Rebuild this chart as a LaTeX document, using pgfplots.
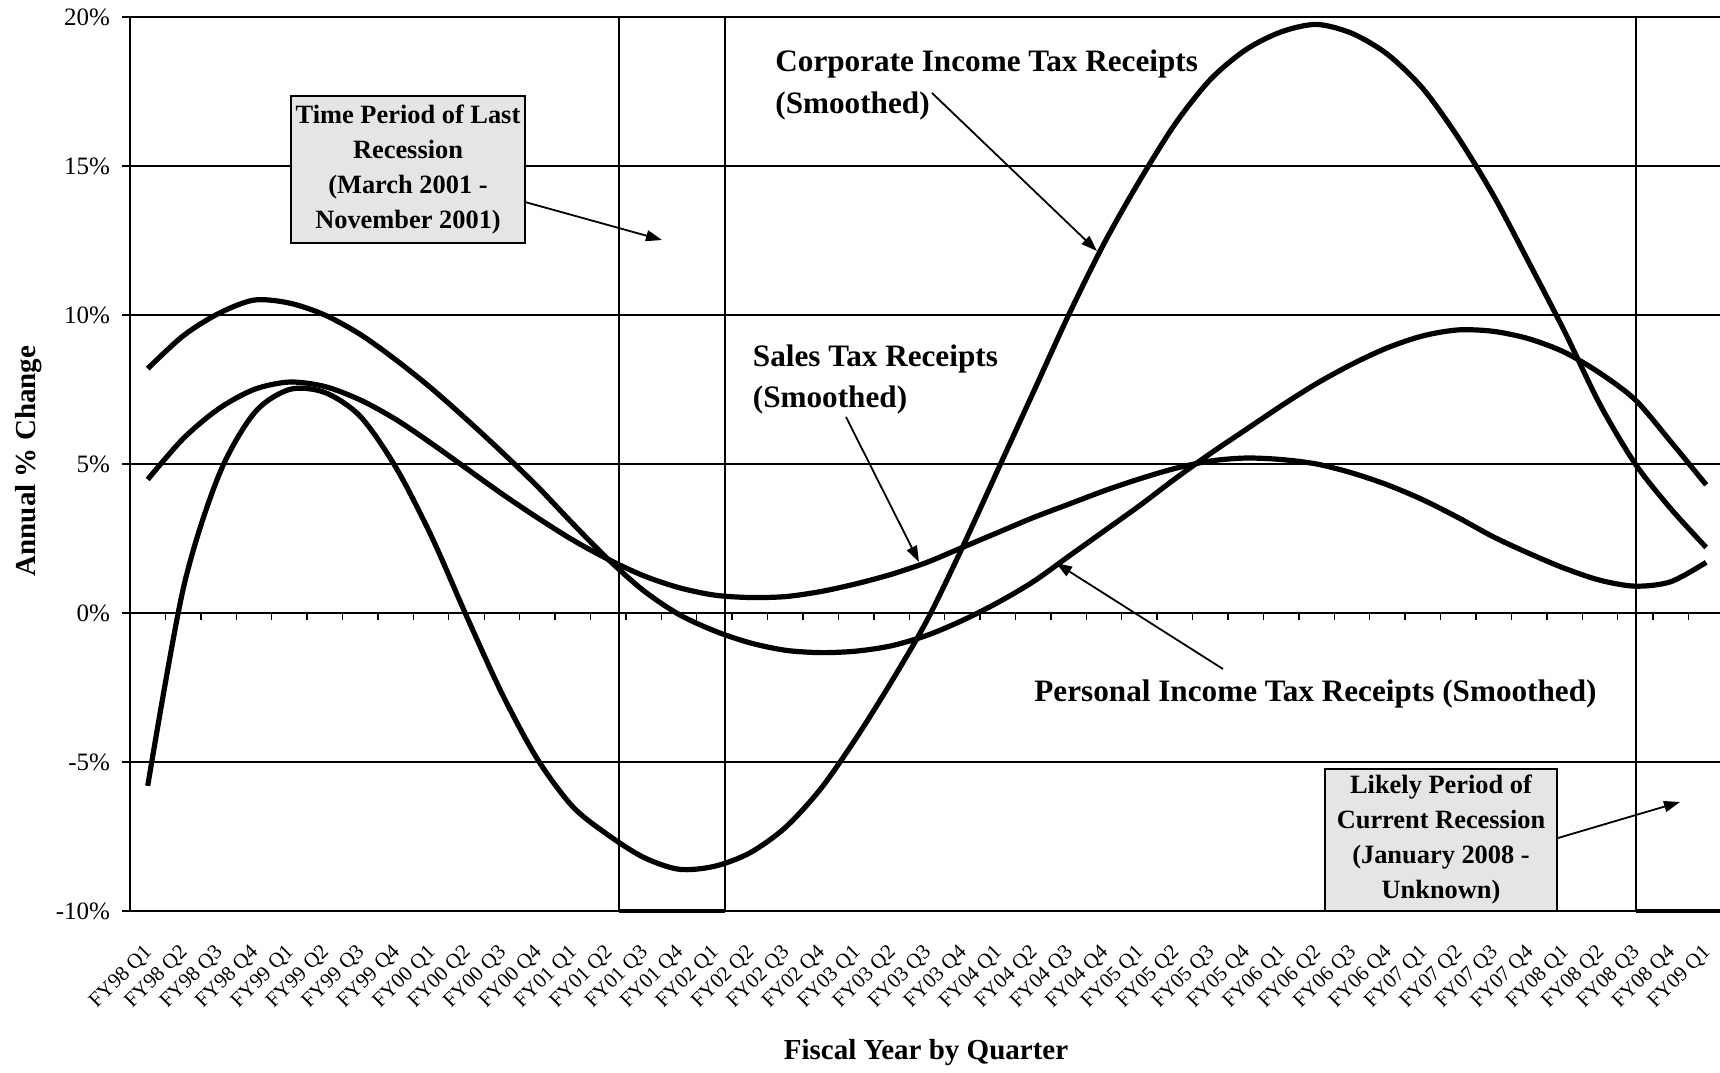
\documentclass[border=0pt]{standalone}
\usepackage{pgfplots}
\pgfplotsset{compat=1.18}
\usepackage{fontspec}
\setmainfont{Liberation Serif}
\usetikzlibrary{arrows.meta}

\newcommand{\annfont}{\fontsize{15.6}{20}\selectfont\bfseries}
\newcommand{\boxfont}{\fontsize{13.2}{17.5}\selectfont\bfseries}

\begin{document}
\begin{tikzpicture}
\path[use as bounding box] (0,0) rectangle (860pt,536pt);
\begin{axis}[
  at={(65pt,80.5pt)}, anchor=south west,
  width=795pt, height=447pt, scale only axis,
  xmin=-0.5, xmax=44.39, ymin=-10, ymax=20,
  axis lines*=left,
  axis line style={black, line width=0.9pt},
  ytick={-10,-5,...,20},
  yticklabels={-10\%,-5\%,0\%,5\%,10\%,15\%,20\%},
  ymajorgrids,
  grid style={black, line width=0.8pt},
  tick align=outside,
  major tick length=4pt,
  ytick style={black, line width=0.8pt},
  yticklabel style={font=\fontsize{12.5}{14}\selectfont, xshift=-2.5pt},
  xtick={0,...,44},
  xtick style={draw=none},
  xticklabels={FY98 Q1,FY98 Q2,FY98 Q3,FY98 Q4,FY99 Q1,FY99 Q2,FY99 Q3,FY99 Q4,FY00 Q1,FY00 Q2,FY00 Q3,FY00 Q4,FY01 Q1,FY01 Q2,FY01 Q3,FY01 Q4,FY02 Q1,FY02 Q2,FY02 Q3,FY02 Q4,FY03 Q1,FY03 Q2,FY03 Q3,FY03 Q4,FY04 Q1,FY04 Q2,FY04 Q3,FY04 Q4,FY05 Q1,FY05 Q2,FY05 Q3,FY05 Q4,FY06 Q1,FY06 Q2,FY06 Q3,FY06 Q4,FY07 Q1,FY07 Q2,FY07 Q3,FY07 Q4,FY08 Q1,FY08 Q2,FY08 Q3,FY08 Q4,FY09 Q1},
  xticklabel style={font=\fontsize{10.5}{12.5}\selectfont, xshift=-2.5pt, yshift=-7pt, rotate=45, anchor=north east},
  clip=false,
]
% recession frames
\draw[black, line width=0.8pt] (axis cs:13.31,-10) -- (axis cs:13.31,20);
\draw[black, line width=0.8pt] (axis cs:16.30,-10) -- (axis cs:16.30,20);
\draw[black, line width=1.8pt] (axis cs:13.31,-10) -- (axis cs:16.30,-10);
\draw[black, line width=0.8pt] (axis cs:42.02,-10) -- (axis cs:42.02,20);
\draw[black, line width=1.8pt] (axis cs:42.02,-10) -- (axis cs:44.39,-10);
% category ticks on the 0% line
\pgfplotsinvokeforeach{0.5,1.5,...,43.5}{
  \draw[black, line width=0.7pt] (axis cs:#1,0) -- ([yshift=-3.5pt]axis cs:#1,0);
}
% Personal income tax
\addplot[black, line width=2.6pt, smooth, tension=0.5] coordinates {
(0,8.2)(1,9.3)(2,10.05)(3,10.5)(4,10.4)(5,10.0)(6,9.35)(7,8.5)(8,7.55)(9,6.5)
(10,5.4)(11,4.25)(12,3.0)(13,1.8)(14,0.75)(15,-0.05)(16,-0.6)(17,-1.0)(18,-1.25)(19,-1.33)
(20,-1.28)(21,-1.1)(22,-0.75)(23,-0.25)(24,0.35)(25,1.05)(26,1.9)(27,2.75)(28,3.6)(29,4.5)
(30,5.35)(31,6.15)(32,6.95)(33,7.7)(34,8.35)(35,8.9)(36,9.3)(37,9.5)(38,9.45)(39,9.2)
(40,8.75)(41,8.05)(42,7.15)(43,5.75)(44,4.3)};
% Sales tax
\addplot[black, line width=2.6pt, smooth, tension=0.5] coordinates {
(0,4.48)(1,5.85)(2,6.85)(3,7.5)(4,7.75)(5,7.6)(6,7.15)(7,6.5)(8,5.7)(9,4.85)
(10,4.0)(11,3.2)(12,2.45)(13,1.8)(14,1.25)(15,0.85)(16,0.6)(17,0.52)(18,0.55)(19,0.72)
(20,0.98)(21,1.3)(22,1.7)(23,2.2)(24,2.7)(25,3.2)(26,3.65)(27,4.1)(28,4.5)(29,4.85)
(30,5.1)(31,5.2)(32,5.15)(33,5.0)(34,4.7)(35,4.3)(36,3.8)(37,3.2)(38,2.55)(39,2.0)
(40,1.5)(41,1.1)(42,0.9)(43,1.05)(44,1.7)};
% Corporate income tax
\addplot[black, line width=2.6pt, smooth, tension=0.5] coordinates {
(0,-5.8)(1,0.8)(2,4.6)(3,6.7)(4,7.5)(5,7.4)(6,6.6)(7,4.9)(8,2.6)(9,-0.1)
(10,-2.7)(11,-4.9)(12,-6.5)(13,-7.45)(14,-8.2)(15,-8.6)(16,-8.5)(17,-8.05)(18,-7.2)(19,-5.9)
(20,-4.2)(21,-2.3)(22,-0.25)(23,2.2)(24,4.8)(25,7.4)(26,10.0)(27,12.4)(28,14.5)(29,16.4)
(30,17.9)(31,18.9)(32,19.5)(33,19.75)(34,19.45)(35,18.75)(36,17.6)(37,15.95)(38,14.0)(39,11.75)
(40,9.45)(41,7.0)(42,5.0)(43,3.5)(44,2.2)};
\end{axis}

\begin{scope}[x=0.5pt, y=-0.5pt, yshift=536pt]
% axis titles
\node[font=\fontsize{14.5}{17}\selectfont\bfseries] at (926,1053) {Fiscal Year by Quarter};
\node[font=\fontsize{14.5}{17}\selectfont\bfseries, rotate=90] at (29,461) {Annual \% Change};
% box 1
\draw[fill=black!10, line width=0.8pt] (291,96) rectangle (525,243);
\node[font=\boxfont, align=center] at (408,169.5) {Time Period of Last\\Recession\\(March 2001 -\\November 2001)};
\draw[-{Triangle[length=8pt,width=5.5pt]}, line width=0.9pt] (525,202) -- (662,240);
% box 2
\draw[fill=black!10, line width=0.8pt] (1325,769) rectangle (1557,911);
\node[font=\boxfont, align=center] at (1441,840) {Likely Period of\\Current Recession\\(January 2008 -\\Unknown)};
\draw[-{Triangle[length=8pt,width=5.5pt]}, line width=0.9pt] (1558,838) -- (1680,802);
% annotations
\node[font=\annfont, anchor=base west, inner sep=0] at (775,72) {Corporate Income Tax Receipts};
\node[font=\annfont, anchor=base west, inner sep=0] at (775,114) {(Smoothed)};
\draw[-{Triangle[length=8pt,width=5.5pt]}, line width=0.9pt] (932,93) -- (1097,251);
\node[font=\annfont, anchor=base west, inner sep=0] at (752.5,367) {Sales Tax Receipts};
\node[font=\annfont, anchor=base west, inner sep=0] at (752.5,408) {(Smoothed)};
\draw[-{Triangle[length=8pt,width=5.5pt]}, line width=0.9pt] (846,417) -- (919,562);
\node[font=\annfont, anchor=base west, inner sep=0] at (1034,702) {Personal Income Tax Receipts (Smoothed)};
\draw[-{Triangle[length=8pt,width=5.5pt]}, line width=0.9pt] (1223,669) -- (1056,563);
\end{scope}
\end{tikzpicture}
\end{document}
